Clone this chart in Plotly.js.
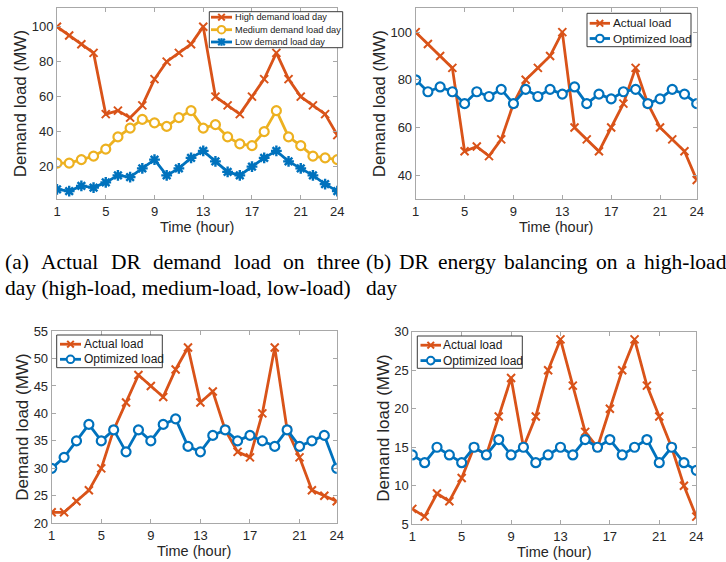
<!DOCTYPE html>
<html>
<head>
<meta charset="utf-8">
<script src="https://cdn.plot.ly/plotly-3.0.1.min.js"></script>
<style>
  html, body { margin: 0; padding: 0; background: #ffffff; }
  #chart { width: 726px; height: 562px; }
</style>
</head>
<body>
<div id="chart"></div>
<script>
// ---------------- data ----------------
const hours = [1,2,3,4,5,6,7,8,9,10,11,12,13,14,15,16,17,18,19,20,21,22,23,24];
const xTickVals = [1,5,9,13,17,21,24];

const highLoad   = [100,95,90,85,50,52,48,55,70,80,85,90,100,60,55,50,60,70,85,70,60,55,50,38];
const mediumLoad = [22,22,24,26,30,37,42,47,45,43,48,52,42,44,37,33,32,40,52,37,32,26,25,24];
const lowLoad    = [7,6,9,8,11,15,14,19,24,15,19,25,29,23,17,15,20,25,29,23,19,15,10,6];

const optHigh    = [80,75,77,75,70,75,73,76,70,76,73,76,74,77,70,74,72,75,76,70,72,76,74,70];
const optMedium  = [30,32,35,38,35,37,33,37,35,38,39,34,33,36,37,35,36,35,34,37,34,35,36,30];
const optLow     = [14,13,15,14,13,15,14,16,14,15,13,14,15,14,16,15,16,14,15,16,13,15,13,12];

const seriesNames = ["High demand load day", "Medium demand load day", "Low demand load day"];
const compareNames = ["Actual load", "Optimized load"];
const captionA = ["(a) Actual DR demand load on three", "day (high-load, medium-load, low-load)"];
const captionB = ["(b) DR energy balancing on a high-load", "day"];
const xTitle = "Time (hour)";
const yTitle = "Demand load (MW)";

// ---------------- styles ----------------
const W = 726, H = 562;
const C_ORANGE = "#D95319", C_YELLOW = "#EDB120", C_BLUE = "#0072BD";
const LW = 2.8;
const FONT = "Liberation Sans, Arial, sans-serif";

function actualTrace(y, name, xa, ya) {
  return { x: hours, y: y, name: name, xaxis: xa, yaxis: ya, showlegend: false,
    type: "scatter", mode: "lines+markers",
    line: { color: C_ORANGE, width: LW },
    marker: { symbol: "x-thin-open", size: 8, color: C_ORANGE, line: { color: C_ORANGE, width: 2 } } };
}
function circleTrace(y, name, xa, ya, color) {
  return { x: hours, y: y, name: name, xaxis: xa, yaxis: ya, showlegend: false,
    type: "scatter", mode: "lines+markers",
    line: { color: color, width: LW },
    marker: { symbol: "circle", size: 9, color: "#ffffff", line: { color: color, width: 2.2 } } };
}
function starTrace(y, name, xa, ya, color) {
  return { x: hours, y: y, name: name, xaxis: xa, yaxis: ya, showlegend: false,
    type: "scatter", mode: "lines+markers",
    line: { color: color, width: LW },
    marker: { symbol: "asterisk-open", size: 9, color: color, line: { color: color, width: 2.4 } } };
}

const traces = [
  actualTrace(highLoad, seriesNames[0], "x", "y"),
  circleTrace(mediumLoad, seriesNames[1], "x", "y", C_YELLOW),
  starTrace(lowLoad, seriesNames[2], "x", "y", C_BLUE),

  actualTrace(highLoad, compareNames[0], "x2", "y2"),
  circleTrace(optHigh, compareNames[1], "x2", "y2", C_BLUE),

  actualTrace(mediumLoad, compareNames[0], "x3", "y3"),
  circleTrace(optMedium, compareNames[1], "x3", "y3", C_BLUE),

  actualTrace(lowLoad, compareNames[0], "x4", "y4"),
  circleTrace(optLow, compareNames[1], "x4", "y4", C_BLUE)
];

const tickFont = { family: FONT, size: 13, color: "#262626" };
const xTitleFont = { family: FONT, size: 14.5, color: "#262626" };
const yTitleFont = { family: FONT, size: 17, color: "#262626" };
const AXC = "#a8a8a8";

function xAxis(px0, px1, anchor) {
  return { domain: [px0 / W, px1 / W], anchor: anchor, range: [1, 24],
    tickvals: xTickVals, ticks: "inside", ticklen: 4, tickcolor: AXC, tickwidth: 1,
    showline: true, linecolor: AXC, linewidth: 1, mirror: "ticks",
    showgrid: false, zeroline: false, tickfont: tickFont,
    title: { text: xTitle, font: xTitleFont, standoff: 3 }, automargin: false };
}
function yAxis(py0, py1, anchor, range, dtick) {
  return { domain: [1 - py1 / H, 1 - py0 / H], anchor: anchor, range: range,
    dtick: dtick, ticks: "inside", ticklen: 4, tickcolor: AXC, tickwidth: 1,
    showline: true, linecolor: AXC, linewidth: 1, mirror: "ticks",
    showgrid: false, zeroline: false, tickfont: tickFont,
    title: { text: yTitle, font: yTitleFont, standoff: 0 }, automargin: false };
}

// ---------------- compact legends (MATLAB style) ----------------
const shapes = [];
const annotations = [];
const px = v => v / W;
const py = v => 1 - v / H;

function legendBlock(box, lineX0, lineX1, textX, rows, fontSize) {
  shapes.push({ type: "rect", xref: "paper", yref: "paper",
    x0: px(box[0]), x1: px(box[1]), y0: py(box[2]), y1: py(box[3]),
    fillcolor: "#ffffff", line: { color: "#3a3a3a", width: 1 } });
  rows.forEach(r => {
    const yy = r.y, cx = (lineX0 + lineX1) / 2;
    shapes.push({ type: "line", xref: "paper", yref: "paper",
      x0: px(lineX0), x1: px(lineX1), y0: py(yy), y1: py(yy),
      line: { color: r.color, width: LW } });
    const s = 3.3;
    if (r.kind === "x") {
      shapes.push({ type: "line", xref: "paper", yref: "paper", x0: px(cx - s), x1: px(cx + s), y0: py(yy - s), y1: py(yy + s), line: { color: r.color, width: 2 } });
      shapes.push({ type: "line", xref: "paper", yref: "paper", x0: px(cx - s), x1: px(cx + s), y0: py(yy + s), y1: py(yy - s), line: { color: r.color, width: 2 } });
    } else if (r.kind === "circle") {
      shapes.push({ type: "circle", xref: "paper", yref: "paper", x0: px(cx - 3.8), x1: px(cx + 3.8), y0: py(yy - 3.8), y1: py(yy + 3.8),
        fillcolor: "#ffffff", line: { color: r.color, width: 2 } });
    } else {
      [[0, s + 0.5], [s + 0.5, 0], [s, s], [s, -s]].forEach(d => {
        shapes.push({ type: "line", xref: "paper", yref: "paper", x0: px(cx - d[0]), x1: px(cx + d[0]), y0: py(yy - d[1]), y1: py(yy + d[1]), line: { color: r.color, width: 2.2 } });
      });
    }
    annotations.push({ text: r.name, x: px(textX), y: py(yy), xref: "paper", yref: "paper",
      xanchor: "left", yanchor: "middle", showarrow: false,
      font: { family: FONT, size: fontSize, color: "#1a1a1a" } });
  });
}

legendBlock([209.3, 342.7, 11.7, 47.7], 211, 232, 232.5, [
  { y: 17.2, name: seriesNames[0], color: C_ORANGE, kind: "x" },
  { y: 29.7, name: seriesNames[1], color: C_YELLOW, kind: "circle" },
  { y: 42.0, name: seriesNames[2], color: C_BLUE, kind: "star" }
], 9.2);
legendBlock([587, 691, 13.3, 46.7], 589.7, 610, 610.5, [
  { y: 23.3, name: compareNames[0], color: C_ORANGE, kind: "x" },
  { y: 38.5, name: compareNames[1], color: C_BLUE, kind: "circle" }
], 11.8);
legendBlock([56.7, 162.3, 335, 367.7], 60, 81, 81.5, [
  { y: 344.2, name: compareNames[0], color: C_ORANGE, kind: "x" },
  { y: 359.3, name: compareNames[1], color: C_BLUE, kind: "circle" }
], 12);
legendBlock([417.3, 522.3, 336, 368.3], 420.5, 441, 441.5, [
  { y: 345.2, name: compareNames[0], color: C_ORANGE, kind: "x" },
  { y: 360.6, name: compareNames[1], color: C_BLUE, kind: "circle" }
], 12);

// ---------------- captions (justified first lines) ----------------
const capFontFamily = "Liberation Serif";
const capSize = 21.5;
const meas = document.createElement("canvas").getContext("2d");
meas.font = capSize + "px '" + capFontFamily + "'";
function justifiedLine(text, x0, x1, yPx) {
  const words = text.split(" ");
  const widths = words.map(w => meas.measureText(w).width);
  const total = widths.reduce((a, b) => a + b, 0);
  const gap = (x1 - x0 - total) / (words.length - 1);
  let x = x0;
  return words.map((w, i) => {
    const a = { text: w, x: x / W, y: 1 - yPx / H, xref: "paper", yref: "paper",
      xanchor: "left", yanchor: "middle", showarrow: false,
      font: { family: capFontFamily, size: capSize, color: "#000000" } };
    x += widths[i] + gap;
    return a;
  });
}
function plainLine(text, x0, yPx) {
  return { text: text, x: x0 / W, y: 1 - yPx / H, xref: "paper", yref: "paper",
    xanchor: "left", yanchor: "middle", showarrow: false,
    font: { family: capFontFamily, size: capSize, color: "#000000" } };
}
annotations.push(...justifiedLine(captionA[0], 3, 358, 262));
annotations.push(plainLine(captionA[1], 3, 288));
annotations.push(...justifiedLine(captionB[0], 364, 724, 262));
annotations.push(plainLine(captionB[1], 364, 288));

const layout = {
  width: W, height: H,
  margin: { l: 0, r: 0, t: 0, b: 0 },
  paper_bgcolor: "#ffffff", plot_bgcolor: "#ffffff",
  showlegend: false,
  xaxis:  xAxis(57, 337.3, "y"),
  yaxis:  yAxis(8.3, 199, "x", [1.5, 110.5], 20),
  xaxis2: xAxis(415.7, 696.7, "y2"),
  yaxis2: yAxis(8.3, 199, "x2", [30, 110], 20),
  xaxis3: xAxis(51.7, 336.7, "y3"),
  yaxis3: yAxis(331, 523.3, "x3", [20, 55], 5),
  xaxis4: xAxis(412.3, 696.3, "y4"),
  yaxis4: yAxis(331.7, 524.3, "x4", [5, 30], 5),
  shapes: shapes,
  annotations: annotations
};
layout.yaxis.tickvals = [20, 40, 60, 80, 100];
layout.yaxis2.tickvals = [40, 60, 80, 100];

Plotly.newPlot("chart", traces, layout, { displayModeBar: false, staticPlot: true });
</script>
</body>
</html>
